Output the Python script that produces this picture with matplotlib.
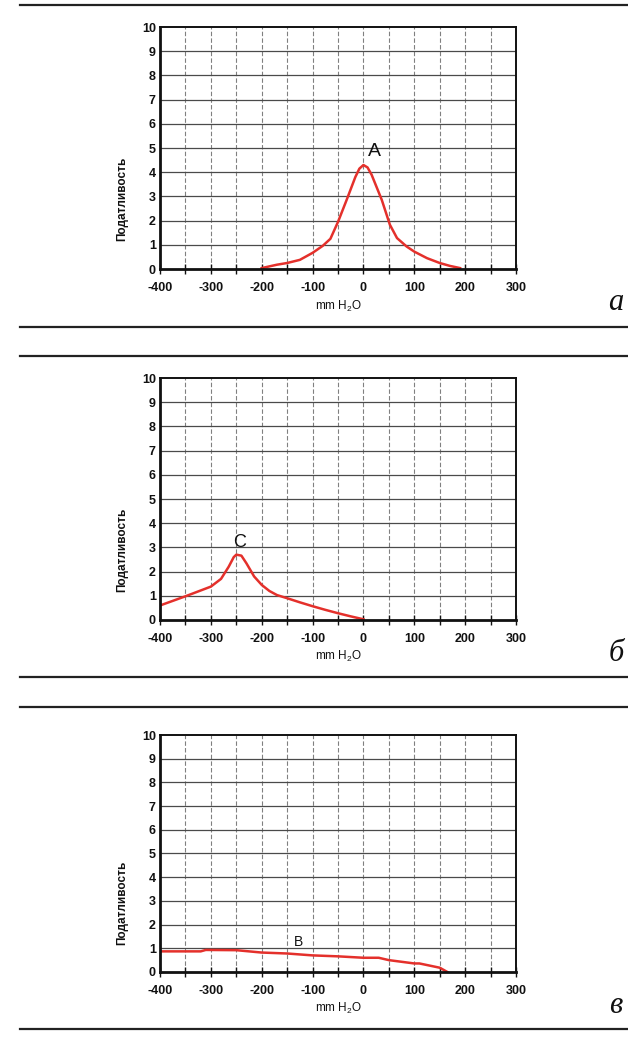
import matplotlib
matplotlib.use("Agg")
import matplotlib.pyplot as plt
import numpy as np

plt.rcParams['font.family'] = ['Liberation Sans', 'DejaVu Sans']
plt.rcParams['mathtext.default'] = 'regular'

# tympanogram readings (pressure mm H2O, compliance)
a_x = [-200, -170, -150, -125, -100, -80, -65, -50, -33, -16, -8, 0, 8, 16, 36, 52, 66, 85, 100, 125, 150, 170, 190]
a_y = [0.04, 0.18, 0.25, 0.38, 0.67, 0.96, 1.25, 1.95, 2.86, 3.8, 4.15, 4.3, 4.2, 3.9, 2.86, 1.83, 1.28, 0.93, 0.72, 0.45, 0.25, 0.13, 0.04]

c_x = [-400, -350, -300, -280, -265, -255, -250, -240, -230, -215, -200, -185, -170, -150, -125, -100, -75, -50, -25, 0]
c_y = [0.6, 0.98, 1.38, 1.7, 2.2, 2.6, 2.7, 2.66, 2.34, 1.8, 1.45, 1.2, 1.03, 0.9, 0.73, 0.57, 0.42, 0.28, 0.15, 0.03]

b_x = [-400, -320, -310, -250, -200, -150, -100, -50, 0, 30, 50, 100, 110, 150, 165]
b_y = [0.87, 0.87, 0.93, 0.92, 0.82, 0.78, 0.7, 0.66, 0.6, 0.6, 0.5, 0.36, 0.36, 0.18, 0.0]

x_ticks = [-400, -300, -200, -100, 0, 100, 200, 300]
y_ticks = list(range(0, 11))
ylabel = 'Податливость'
xlabel = 'mm H$_2$O'

panels = [
    (a_x, a_y, 'A', (21, 4.85), 14, 'a', 0.7408, 0.2331),
    (c_x, c_y, 'C', (-244, 3.2), 13, 'б', 0.4027, 0.2331),
    (b_x, b_y, 'B', (-128, 1.25), 10, 'в', 0.0636, 0.2283),
]

fig = plt.figure(figsize=(6.28, 10.38), dpi=100)
fig.patch.set_facecolor('white')

red = '#e4302b'

for xs, ys, name, pos, fs, letter, bottom, height in panels:
    ax = fig.add_axes([0.2548, bottom, 0.5669, height])
    ax.set_xlim(-400, 300)
    ax.set_ylim(0, 10)
    # grid: verticals every 50 dashed, horizontals every 1
    for gx in np.arange(-350, 300, 50):
        ax.axvline(gx, color='#808080', lw=0.8, ls=(0, (4, 2)), zorder=1)
    for gy in range(1, 10):
        ax.axhline(gy, color='#4a4a4a', lw=0.9, zorder=1)
    ax.plot(xs, ys, color=red, lw=1.8, zorder=3, solid_joinstyle='round')
    ax.text(pos[0], pos[1], name, fontsize=fs, ha='center', va='center', color='#111')
    ax.set_xticks(np.arange(-400, 301, 50))
    ax.set_xticklabels([str(v) if v in x_ticks else '' for v in np.arange(-400, 301, 50)],
                       fontweight='bold')
    ax.set_yticks(y_ticks)
    ax.set_yticklabels([str(v) for v in y_ticks], fontweight='bold')
    ax.tick_params(axis='x', direction='inout', length=7, width=1.0, labelsize=9, pad=6, colors='#111')
    ax.tick_params(axis='y', direction='in', length=0, labelsize=9, pad=3, colors='#111')
    for s in ['left', 'bottom']:
        ax.spines[s].set_linewidth(2.0)
    for s in ['top', 'right']:
        ax.spines[s].set_linewidth(1.4)
    for s in ax.spines.values():
        s.set_color('#111')
        s.set_zorder(4)
    ax.set_xlabel(xlabel, fontsize=8.5, labelpad=3, color='#111')
    ax.set_ylabel(ylabel, fontsize=8.5, color='#111', fontweight='bold')
    ax.yaxis.set_label_coords(-0.09, 0.29)
    fig.text(0.981, bottom - 0.032, letter, fontsize=22, style='italic',
             family=['Liberation Serif', 'DejaVu Serif'], ha='center', va='center', color='#111')

# page rules of the scanned book
for yy in [5, 327, 356, 677, 707, 1029]:
    fig.add_artist(plt.Line2D([20 / 628, 1.0], [1 - yy / 1038, 1 - yy / 1038],
                              color='#222', lw=1.6, transform=fig.transFigure))

fig.savefig('out.png', dpi=100, facecolor='white')
